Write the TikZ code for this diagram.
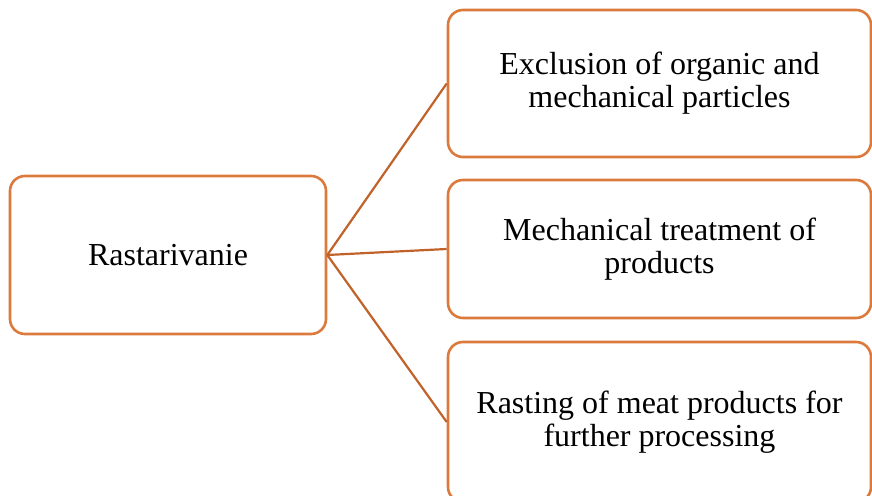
\documentclass[tikz,border=0pt]{standalone}
\usepackage{fontspec}
\setmainfont{Liberation Serif}
\definecolor{boxorange}{RGB}{219,122,60}
\definecolor{lineorange}{RGB}{192,98,42}
\tikzset{
  stagebox/.style={draw=boxorange, line width=2.6pt, rounded corners=15pt, fill=white,
    align=center, inner sep=0pt, font=\fontsize{32}{33}\selectfont},
  link/.style={draw=lineorange, line width=2.2pt}
}
\begin{document}
\begin{tikzpicture}[x=1pt,y=1pt]
\useasboundingbox (0,0) rectangle (872,495);
\clip (0,0) rectangle (872,495);
\node[stagebox, minimum width=316pt, minimum height=158pt] (root) at (168,240) {Rastarivanie};
\node[stagebox, minimum width=423pt, minimum height=147pt] (excl) at (659.5,411.5) {Exclusion of organic and\\mechanical particles};
\node[stagebox, minimum width=423pt, minimum height=138pt] (mech) at (659.5,246) {Mechanical treatment of\\products};
\node[stagebox, minimum width=423pt, minimum height=160pt] (rast) at (659.5,73) {Rasting of meat products for\\further processing};
\draw[link] (root.east) -- (excl.west);
\draw[link] (root.east) -- (mech.west);
\draw[link] (root.east) -- (rast.west);
\end{tikzpicture}
\end{document}
